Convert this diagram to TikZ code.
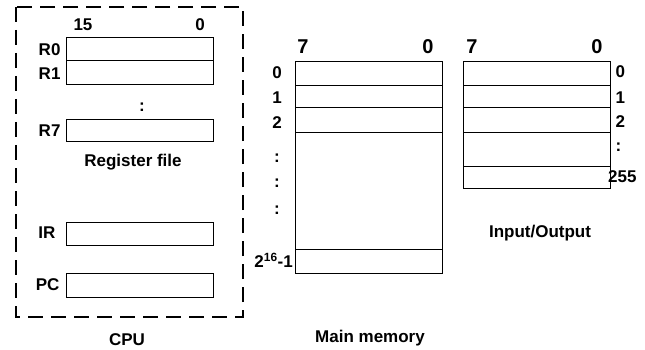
\documentclass[tikz,border=0pt]{standalone}
\usepackage{fontspec}
\setmainfont{Liberation Sans}
\usetikzlibrary{positioning}

\begin{document}
\begin{tikzpicture}[x=1pt,y=-1pt,
    font=\bfseries\fontsize{17}{19}\selectfont,
    reg/.style={draw, line width=1pt, minimum width=147pt, inner sep=0pt},
    bigbit/.style={font=\bfseries\fontsize{20}{22}\selectfont}]
            \useasboundingbox (0,0) rectangle (645,350);
            % CPU frame
            \draw[line width=2.2pt, dash pattern=on 15pt off 8pt] (16,7) rectangle (243,317);
            % Register file
            \node at (83,25) {15};
            \node at (200,25) {0};
            \node[reg, minimum height=23pt] (r0) at (139.5,49.5) {};
            \node[reg, minimum height=24pt] (r1) at (139.5,73) {};
            \node[reg, minimum height=22pt] (r7) at (139.5,131) {};
            \node[anchor=east] at (64,50) {R0};
            \node[anchor=east] at (64,74) {R1};
            \node[anchor=east] at (64,131) {R7};
            \node at (142,107) {:};
            \node at (133,162) {Register file};
            % IR and PC
            \node[reg, minimum height=23pt] (ir) at (139.5,233.5) {};
            \node[reg, minimum height=24pt] (pc) at (139.5,285) {};
            \node[anchor=east] at (59,233) {IR};
            \node[anchor=east] at (63,285) {PC};
            \node at (127,340) {CPU};

            % Main memory
            \node[bigbit] at (303,47) {7};
            \node[bigbit] at (428,47) {0};
            \node[reg, minimum height=24pt] (m0) at (368.5,74) {};
            \node[reg, minimum height=22pt] (m1) at (368.5,97) {};
            \node[reg, minimum height=25pt] (m2) at (368.5,120.5) {};
            \node[reg, minimum height=116pt] (mgap) at (368.5,191) {};
            \node[reg, minimum height=24pt] (mlast) at (368.5,261) {};
            \node at (277,73) {0};
            \node at (277,98) {1};
            \node at (277,123) {2};
            \node at (277,158) {:};
            \node at (277,183) {:};
            \node at (277,210) {:};
            \node[anchor=east, inner sep=1pt] at (294,260) {2\textsuperscript{16}-1};
            \node at (370,338) {Main memory};

            % Input/Output
            \node[bigbit] at (472,47) {7};
            \node[bigbit] at (597,47) {0};
            \node[reg, minimum height=24pt] (io0) at (536.5,74) {};
            \node[reg, minimum height=22pt] (io1) at (536.5,97) {};
            \node[reg, minimum height=25pt] (io2) at (536.5,120.5) {};
            \node[reg, minimum height=33pt] (iogap) at (536.5,149.5) {};
            \node[reg, minimum height=22pt] (iolast) at (536.5,177) {};
            \node[anchor=west] at (612,72) {0};
            \node[anchor=west] at (612,98) {1};
            \node[anchor=west] at (612,122) {2};
            \node[anchor=west] at (612,147) {:};
            \node[anchor=west, inner sep=0pt] at (608,177) {255};
            \node at (540,233) {Input/Output};
        \end{tikzpicture}
\end{document}
